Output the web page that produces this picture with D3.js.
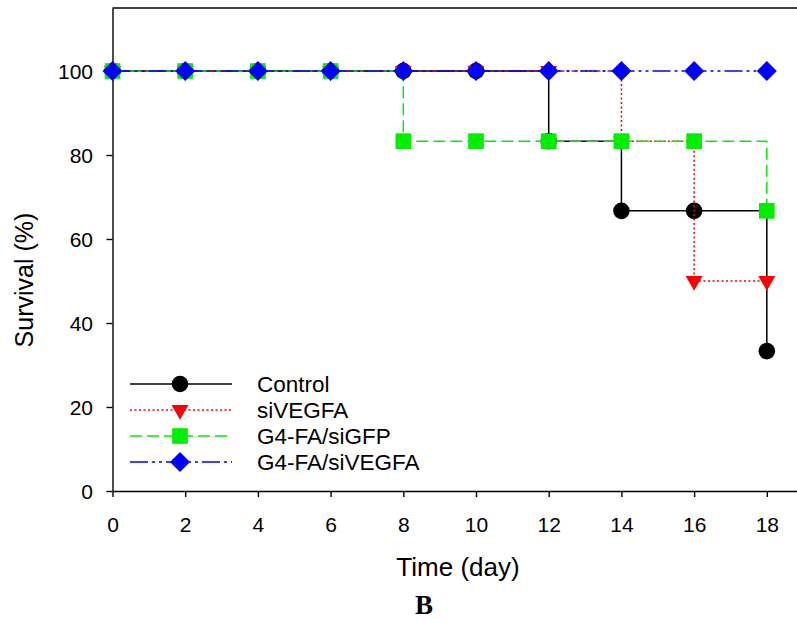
<!DOCTYPE html>
<html>
<head>
<meta charset="utf-8">
<script src="https://cdnjs.cloudflare.com/ajax/libs/d3/7.8.5/d3.min.js"></script>
<style>
  html, body { margin: 0; padding: 0; background: #fff; }
  svg { display: block; }
</style>
</head>
<body>
<div id="chart"></div>
<script>
// survival curves, values
const days = [0, 2, 4, 6, 8, 10, 12, 14, 16, 18];
const control   = [100, 100, 100, 100, 100, 100, 83.3, 66.7, 66.7, 33.3];
const siVEGFA   = [100, 100, 100, 100, 100, 100, 100, 83.3, 50, 50];
const g4siGFP   = [100, 100, 100, 100, 83.3, 83.3, 83.3, 83.3, 83.3, 66.7];
const g4siVEGFA = [100, 100, 100, 100, 100, 100, 100, 100, 100, 100];

const seriesNames = ['Control', 'siVEGFA', 'G4-FA/siGFP', 'G4-FA/siVEGFA'];
const xTicks = [0, 2, 4, 6, 8, 10, 12, 14, 16, 18];
const yTicks = [0, 20, 40, 60, 80, 100];

const W = 797, H = 623;
const FONT = '"Liberation Sans", Arial, Helvetica, sans-serif';
const svg = d3.select('#chart').append('svg')
  .attr('width', W)
  .attr('height', H)
  .style('font-family', FONT);

// plot runs off the right edge of the original crop
const x = d3.scaleLinear().domain([0, 18.83]).range([112.5, 797]);
const y = d3.scaleLinear().domain([0, 115]).range([491, 8]);

// square rotated 45deg for the diamond, triangle pointing down
const styles = [
  { color: '#000000', dash: null,           shape: d3.symbolCircle,   size: 215, rot: 0 },
  { color: '#ff0000', dash: '2,2.5',        shape: d3.symbolTriangle, size: 125, rot: 180 },
  { color: '#00ee00', dash: '12,5',         shape: d3.symbolSquare,   size: 245, rot: 0 },
  { color: '#0000ff', dash: '18,4,3,4,3,4', shape: d3.symbolSquare,   size: 200, rot: 45 }
];
const allValues = [control, siVEGFA, g4siGFP, g4siVEGFA];

// frame top line
svg.append('line')
  .attr('x1', x(0)).attr('x2', W)
  .attr('y1', y(115)).attr('y2', y(115))
  .attr('stroke', '#000').attr('stroke-width', 1.5);

// axes
const xAxis = svg.append('g')
  .attr('transform', `translate(0,${y(0)})`)
  .call(d3.axisBottom(x).tickValues(xTicks).tickSize(6).tickSizeOuter(0));
const yAxis = svg.append('g')
  .attr('transform', `translate(${x(0)},0)`)
  .call(d3.axisLeft(y).tickValues(yTicks).tickSize(6).tickSizeOuter(0));

[xAxis, yAxis].forEach(g => {
  g.selectAll('path, line').attr('stroke', '#000').attr('stroke-width', 1.4);
  g.selectAll('text')
    .attr('fill', '#000')
    .style('font-size', '21px')
    .style('font-family', FONT);
});
xAxis.selectAll('text').attr('y', 41).attr('dy', 0);
yAxis.selectAll('text').attr('x', -19.5).attr('dy', '0.35em');

// axis titles
svg.append('text')
  .attr('x', 458).attr('y', 576)
  .attr('text-anchor', 'middle')
  .style('font-size', '26px')
  .text('Time (day)');

svg.append('text')
  .attr('transform', 'translate(33,280) rotate(-90)')
  .attr('text-anchor', 'middle')
  .style('font-size', '25px')
  .text('Survival (%)');

svg.append('text')
  .attr('x', 424).attr('y', 614)
  .attr('text-anchor', 'middle')
  .style('font-family', '"Liberation Serif", "Times New Roman", serif')
  .style('font-weight', 'bold')
  .style('font-size', '27px')
  .text('B');

// step curves
const line = d3.line()
  .x(d => x(d[0]))
  .y(d => y(d[1]))
  .curve(d3.curveStepAfter);

allValues.forEach((vals, i) => {
  const s = styles[i];
  const pts = days.map((d, j) => [d, vals[j]]);
  const g = svg.append('g');
  g.append('path')
    .datum(pts)
    .attr('d', line)
    .attr('fill', 'none')
    .attr('stroke', s.color)
    .attr('stroke-width', 1.5)
    .attr('stroke-dasharray', s.dash);
  g.selectAll('path.mark')
    .data(pts)
    .enter()
    .append('path')
    .attr('class', 'mark')
    .attr('d', d3.symbol().type(s.shape).size(s.size))
    .attr('transform', d => `translate(${x(d[0])},${y(d[1])}) rotate(${s.rot})`)
    .attr('fill', s.color);
});

// legend
const legend = svg.append('g');
const legY = [384, 410, 436, 462];
seriesNames.forEach((name, i) => {
  const s = styles[i];
  legend.append('line')
    .attr('x1', 130).attr('x2', 232)
    .attr('y1', legY[i]).attr('y2', legY[i])
    .attr('stroke', s.color)
    .attr('stroke-width', 1.5)
    .attr('stroke-dasharray', s.dash);
  legend.append('path')
    .attr('d', d3.symbol().type(s.shape).size(s.size))
    .attr('transform', `translate(180,${legY[i]}) rotate(${s.rot})`)
    .attr('fill', s.color);
  legend.append('text')
    .attr('x', 257).attr('y', legY[i])
    .attr('dy', '0.36em')
    .style('font-size', '22.5px')
    .text(name);
});
</script>
</body>
</html>
